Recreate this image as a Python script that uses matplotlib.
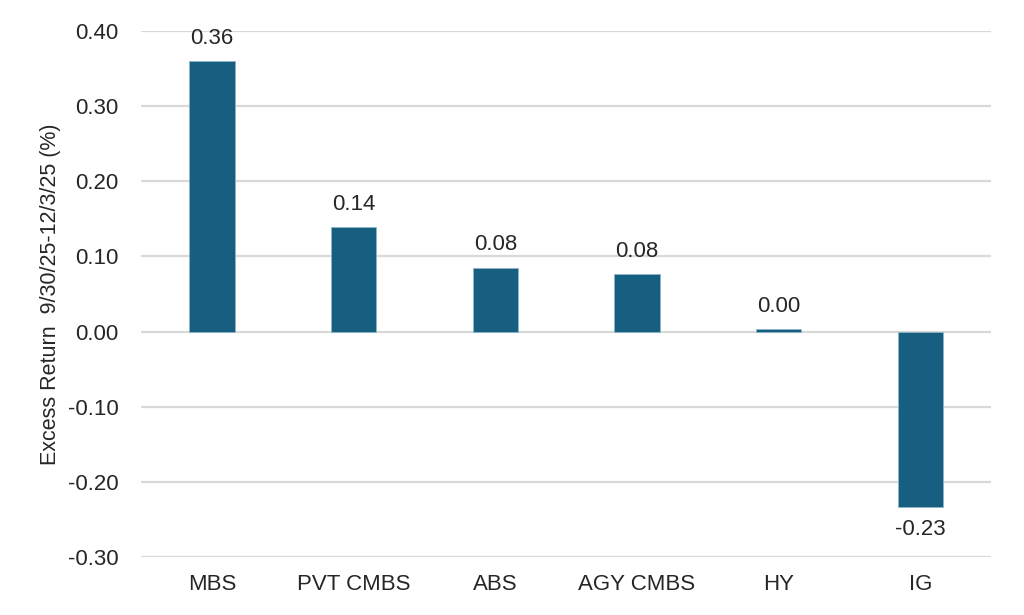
import matplotlib
matplotlib.use("Agg")
from matplotlib import pyplot as plt
import numpy as np

categories = ["MBS", "PVT CMBS", "ABS", "AGY CMBS", "HY", "IG"]
values = [0.36, 0.139, 0.085, 0.076, 0.003, -0.233]
labels = ["0.36", "0.14", "0.08", "0.08", "0.00", "-0.23"]
yticks = [0.40, 0.30, 0.20, 0.10, 0.00, -0.10, -0.20, -0.30]

plt.rcParams['font.family'] = ['Liberation Sans', 'DejaVu Sans']

fig = plt.figure(figsize=(10.24, 6.15), dpi=100)
ax = fig.add_axes([0.1377, 0.0943, 0.8303, 0.8553])

x = np.arange(len(categories))
bars = ax.bar(x, values, width=0.32, color='#175f80', edgecolor='#8fb4c8', linewidth=0.6, zorder=3)

# value labels above positive bars, below negative ones
for b, v, lab in zip(bars, values, labels):
	cx = b.get_x() + b.get_width() / 2
	if v >= 0:
		ax.annotate(lab, (cx, v), xytext=(0, 9), textcoords='offset points',
			ha='center', va='bottom', fontsize=16, color='#262626')
	else:
		ax.annotate(lab, (cx, v), xytext=(0, -9), textcoords='offset points',
			ha='center', va='top', fontsize=16, color='#262626')

ax.set_xlim(-0.5, len(categories) - 0.5)
ax.set_ylim(-0.30, 0.40)
ax.set_yticks(yticks)
ax.set_yticklabels(["%.2f" % t for t in yticks])
ax.set_xticks(x)
ax.set_xticklabels(categories)
ax.tick_params(axis='both', length=0, labelsize=16, labelcolor='#262626')
ax.tick_params(axis='y', pad=16)
ax.tick_params(axis='x', pad=12)

ax.grid(axis='y', color='#d9d9d9', linewidth=1.6, zorder=0)
ax.set_axisbelow(True)
for s in ax.spines.values():
	s.set_visible(False)

ax.set_ylabel("Excess Return  9/30/25-12/3/25 (%)", fontsize=15.5, color='#262626', labelpad=5)

fig.savefig("out.png", dpi=100)
